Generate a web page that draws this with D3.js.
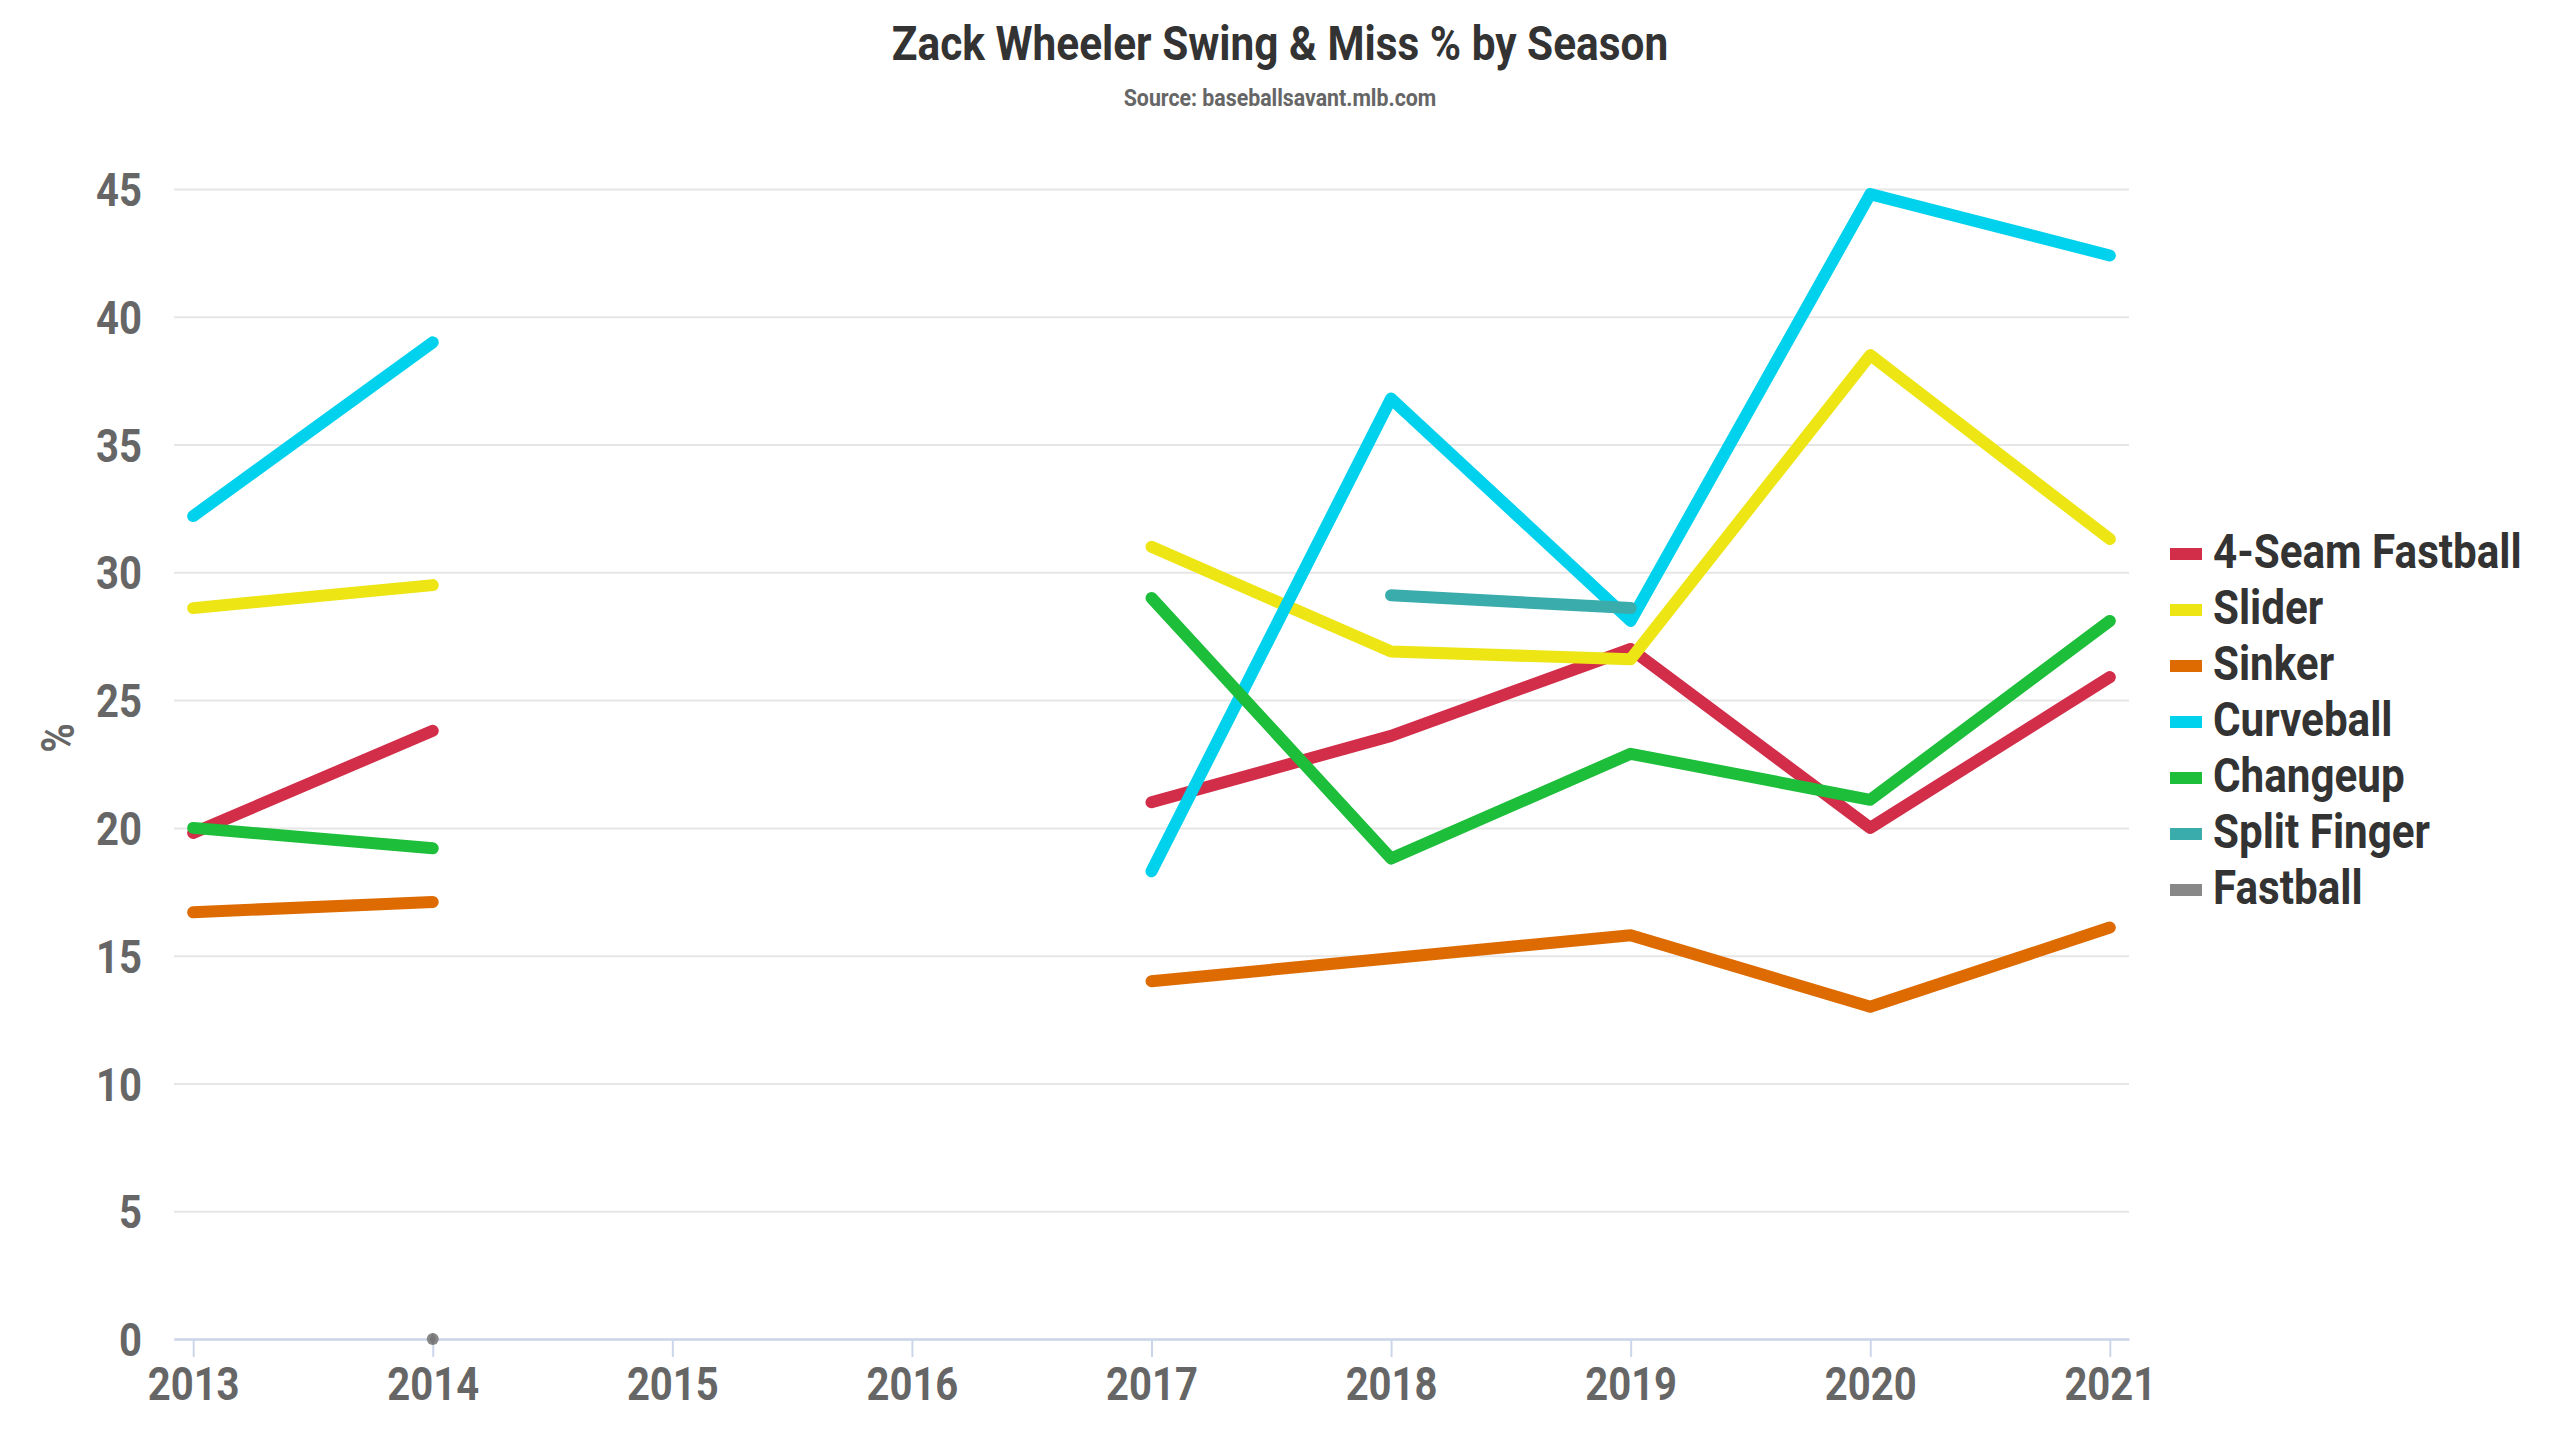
<!DOCTYPE html>
<html>
<head>
<meta charset="utf-8">
<script src="https://cdn.jsdelivr.net/npm/d3@7"></script>
<style>
  html, body { margin: 0; padding: 0; background: #ffffff; }
  svg { display: block; }
  text { font-family: Roboto, "Noto Sans", sans-serif; font-weight: bold; }
</style>
</head>
<body>
<script>
// ---------- data ----------
const years = [2013, 2014, 2015, 2016, 2017, 2018, 2019, 2020, 2021];
const yTicks = [0, 5, 10, 15, 20, 25, 30, 35, 40, 45];
const seriesNames = ["4-Seam Fastball", "Slider", "Sinker", "Curveball", "Changeup", "Split Finger", "Fastball"];
const seriesColors = ["#d22d49", "#ede514", "#dd6b02", "#00d1ed", "#1dbe3a", "#3bacac", "#888888"];
const fourSeam    = [19.8, 23.8, null, null, 21.0, 23.6, 27.0, 20.0, 25.9];
const slider      = [28.6, 29.5, null, null, 31.0, 26.9, 26.6, 38.5, 31.3];
const sinker      = [16.7, 17.1, null, null, 14.0, 14.9, 15.8, 13.0, 16.1];
const curveball   = [32.2, 39.0, null, null, 18.3, 36.8, 28.1, 44.8, 42.4];
const changeup    = [20.0, 19.2, null, null, 29.0, 18.8, 22.9, 21.1, 28.1];
const splitFinger = [null, null, null, null, null, 29.1, 28.6, null, null];
const fastball    = [null, 0, null, null, null, null, null, null, null];
const seriesValues = [fourSeam, slider, sinker, curveball, changeup, splitFinger, fastball];

// ---------- layout ----------
const W = 2560, H = 1440;
const plot = { left: 174, right: 2129, top: 189, bottom: 1339 };
const K = 0.87; // horizontal condensing of text
const xPad = 0.08;

const svg = d3.select("body").append("svg").attr("width", W).attr("height", H);
svg.append("rect").attr("width", W).attr("height", H).attr("fill", "#ffffff");

const x = d3.scaleLinear()
  .domain([d3.min(years) - xPad, d3.max(years) + xPad])
  .range([plot.left, plot.right]);
const y = d3.scaleLinear().domain([0, 45]).range([plot.bottom, plot.top]);

// title
svg.append("text")
  .attr("transform", `translate(${W / 2},60) scale(${K * 0.994},1)`)
  .attr("text-anchor", "middle").attr("font-size", 49).attr("fill", "#333333")
  .text("Zack Wheeler Swing & Miss % by Season");
svg.append("text")
  .attr("transform", `translate(${W / 2},106) scale(${K},1)`)
  .attr("text-anchor", "middle").attr("font-size", 24.5).attr("fill", "#666666")
  .text("Source: baseballsavant.mlb.com");

// y axis with gridlines
const yAxis = svg.append("g")
  .attr("transform", `translate(${plot.left},0)`)
  .call(d3.axisLeft(y).tickValues(yTicks).tickSize(-(plot.right - plot.left)).tickPadding(32));
yAxis.select(".domain").remove();
yAxis.selectAll(".tick line").attr("stroke", "#e6e6e6").attr("stroke-width", 2);
yAxis.selectAll(".tick text")
  .attr("x", null).attr("dy", "0.36em")
  .attr("transform", `translate(-32,0) scale(${K},1)`)
  .attr("font-size", 46).attr("fill", "#666666")
  .attr("font-family", "Roboto, sans-serif").attr("font-weight", "bold");

// y axis title
svg.append("text")
  .attr("transform", `translate(57,738) rotate(-90) scale(${K},1)`)
  .attr("text-anchor", "middle").attr("dy", "0.36em")
  .attr("font-size", 46).attr("fill", "#666666")
  .text("%");

// x axis
const xAxis = svg.append("g")
  .attr("transform", `translate(0,${plot.bottom})`)
  .call(d3.axisBottom(x).tickValues(years).tickFormat(d3.format("d")).tickSize(18).tickSizeOuter(0));
xAxis.select(".domain").attr("stroke", "#ccd6eb").attr("stroke-width", 2.5);
xAxis.selectAll(".tick line").attr("stroke", "#ccd6eb").attr("stroke-width", 2);
xAxis.selectAll(".tick text")
  .attr("y", null).attr("dy", null)
  .attr("transform", `translate(0,61) scale(${K},1)`)
  .attr("font-size", 46).attr("fill", "#666666")
  .attr("font-family", "Roboto, sans-serif").attr("font-weight", "bold");

// lines
const line = d3.line()
  .defined(d => d.v != null)
  .x(d => x(d.year))
  .y(d => y(d.v));

const lines = svg.append("g");
seriesValues.forEach((vals, i) => {
  const pts = years.map((yr, j) => ({ year: yr, v: vals[j] }));
  lines.append("path")
    .datum(pts)
    .attr("d", line)
    .attr("fill", "none")
    .attr("stroke", seriesColors[i])
    .attr("stroke-width", 12)
    .attr("stroke-linecap", "round")
    .attr("stroke-linejoin", "round");
  // isolated points get a marker
  pts.forEach((p, j) => {
    if (p.v == null) return;
    const prev = j > 0 ? pts[j - 1].v : null;
    const next = j < pts.length - 1 ? pts[j + 1].v : null;
    if (prev == null && next == null) {
      lines.append("path")
        .attr("d", d3.symbol().type(d3.symbolDiamond).size(40)())
        .attr("transform", `translate(${x(p.year)},${y(p.v)})`)
        .attr("fill", "#777777");
    }
  });
});

// legend
const legend = svg.append("g").attr("transform", "translate(2170,554)");
seriesNames.forEach((name, i) => {
  const g = legend.append("g").attr("transform", `translate(0,${i * 56})`);
  g.append("rect").attr("x", 0).attr("y", -6).attr("width", 32).attr("height", 12)
    .attr("fill", seriesColors[i]);
  g.append("text")
    .attr("transform", `translate(43,14) scale(${K * 1.01},1)`)
    .attr("font-size", 48).attr("fill", "#333333")
    .text(name);
});
</script>
</body>
</html>
